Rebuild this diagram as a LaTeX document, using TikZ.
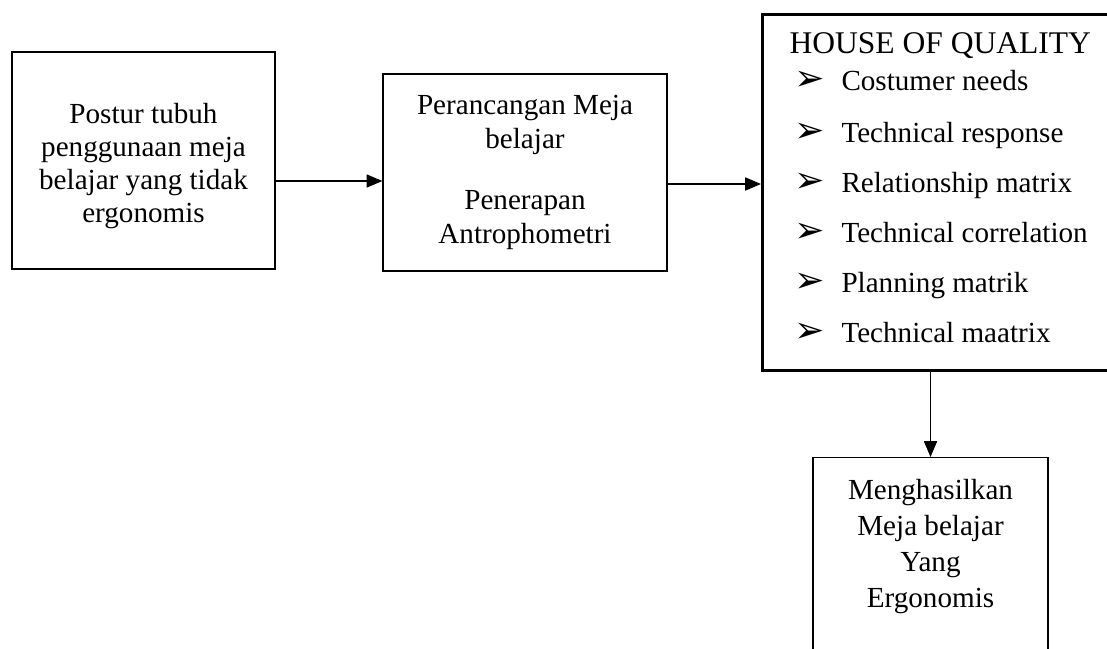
\documentclass[tikz,border=0pt]{standalone}
\usepackage{fontspec}
\setmainfont{Liberation Serif}
\newfontfamily\symfont{DejaVu Sans}
\usetikzlibrary{arrows.meta}
\newdimen\pxu \pxu=0.412pt
\newcommand{\bul}{\makebox[47\pxu][l]{\symfont\fontsize{15}{15}\selectfont ➢}}

\begin{document}
\begin{tikzpicture}[x=0.412pt, y=-0.412pt,
    every node/.style={font=\fontsize{12}{14}\selectfont},
    box/.style={draw, line width=0.5pt, align=center, inner sep=0pt},
    txt/.style={inner sep=0pt},
    flow/.style={-{Triangle[length=6.5pt,width=5.4pt]}, line width=0.5pt}]
      % page frame
      \useasboundingbox (0,0) rectangle (1107,648);
      \clip (0,0) rectangle (1107,648);
      % Postur box
      \node[box, minimum width=263\pxu, minimum height=217\pxu] (postur) at (143.5,160.5) {};
      \node[txt, align=center, font=\fontsize{12}{13.5}\selectfont] (posturtext) at (143.5,166)
        {Postur tubuh\\ penggunaan meja\\ belajar yang tidak\\ ergonomis};
      % Perancangan box
      \node[box, minimum width=284\pxu, minimum height=197\pxu] (rancang) at (525,172.5)
        {Perancangan Meja\\ belajar\\[11pt] Penerapan\\ Antrophometri};
      % House of quality box, runs past the right edge
      \node[box, line width=1.25pt, minimum width=380\pxu, minimum height=356\pxu,
        anchor=north west] (hoq) at (761,13) {};
      \node[txt, anchor=base west, font=\fontsize{13}{15}\selectfont] (hoqtitle) at (789,53) {HOUSE OF QUALITY};
      \node[txt, anchor=base west] (needs) at (794,90) {\bul Costumer needs};
      \node[txt, anchor=base west] (response) at (794,142) {\bul Technical response};
      \node[txt, anchor=base west] (relation) at (794,192) {\bul Relationship matrix};
      \node[txt, anchor=base west] (correl) at (794,242) {\bul Technical correlation};
      \node[txt, anchor=base west] (planning) at (794,292) {\bul Planning matrik};
      \node[txt, anchor=base west] (techmat) at (794,342) {\bul Technical maatrix};
      % result box, runs past the bottom edge
      \node[box, minimum width=235\pxu, minimum height=230\pxu, anchor=north] (hasil) at (930.5,457) {};
      \node[txt, anchor=north, align=center, font=\fontsize{12}{14.8}\selectfont] (hasiltext) at (930.5,479)
        {Menghasilkan\\ Meja belajar\\ Yang\\ Ergonomis};
      % arrows
      \coordinate (out1) at ([yshift=-20.5\pxu]postur.east);
      \coordinate (out2) at ([yshift=-11.5\pxu]rancang.east);
      \draw[flow] (out1) -- (out1 -| rancang.west);
      \draw[flow] (out2) -- (out2 -| hoq.west);
      \draw[flow] (hasil.north |- hoq.south) -- (hasil.north);
\end{tikzpicture}
\end{document}
